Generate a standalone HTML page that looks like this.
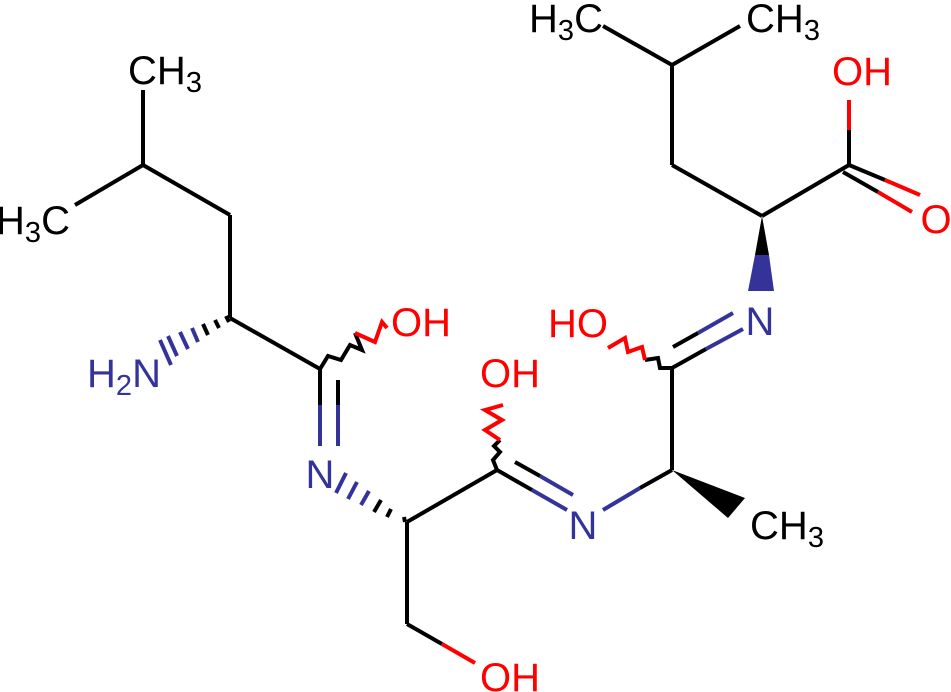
<!DOCTYPE html>
<html><head><meta charset="utf-8"><style>html,body{margin:0;padding:0;background:#fff}svg{display:block}</style></head><body>
<svg width="951" height="692" viewBox="0 0 951 692" xmlns="http://www.w3.org/2000/svg" font-family="Liberation Sans, sans-serif" font-size="40">
<g stroke="#000" stroke-width="4" fill="none" stroke-linecap="butt">
<line x1="75" y1="205" x2="143" y2="165"/>
<line x1="143" y1="165" x2="143" y2="90"/>
<line x1="143" y1="165" x2="230" y2="215"/>
<line x1="230" y1="215" x2="230" y2="318"/>
<line x1="230" y1="318" x2="320" y2="369"/>
<line x1="320" y1="369" x2="320" y2="405"/>
<line x1="320" y1="405" x2="320" y2="446" stroke="#333399"/>
<line x1="338" y1="380" x2="338" y2="405"/>
<line x1="338" y1="405" x2="338" y2="446" stroke="#333399"/>
<polyline points="320,369 328,356 341,360 350,345 362,350 355,333" />
<polyline points="355,333 375,342 382,322 387,328" stroke="#f00"/>
<line x1="407" y1="522" x2="497" y2="470"/>
<line x1="407" y1="522" x2="407" y2="624"/>
<line x1="407" y1="624" x2="442" y2="644"/>
<line x1="442" y1="644" x2="475" y2="663" stroke="#f00"/>
<line x1="497" y1="470" x2="532" y2="490"/>
<line x1="532" y1="490" x2="567" y2="510" stroke="#333399"/>
<line x1="515" y1="462" x2="540" y2="476"/>
<line x1="540" y1="476" x2="573" y2="495" stroke="#333399"/>
<polyline points="497,470 493,460 500,452 494,446 500,440" />
<polyline points="500,440 485,430 502,420 485,410 503,405" stroke="#f00"/>
<line x1="603" y1="510" x2="640" y2="488" stroke="#333399"/>
<line x1="640" y1="488" x2="672" y2="470"/>
<line x1="672" y1="470" x2="672" y2="368"/>
<line x1="672" y1="368" x2="706" y2="349"/>
<line x1="706" y1="349" x2="743" y2="329" stroke="#333399"/>
<line x1="673" y1="347" x2="698" y2="333"/>
<line x1="698" y1="333" x2="733" y2="313" stroke="#333399"/>
<polyline points="672,368 660,368 658,358 645,360" />
<polyline points="645,360 642,347 628,352 625,338 608,348" stroke="#f00"/>
<line x1="762" y1="216" x2="672" y2="165"/>
<line x1="672" y1="165" x2="672" y2="65"/>
<line x1="672" y1="65" x2="603" y2="26"/>
<line x1="672" y1="65" x2="740" y2="26"/>
<line x1="762" y1="216" x2="849" y2="165"/>
<line x1="849" y1="165" x2="849" y2="130"/>
<line x1="849" y1="130" x2="849" y2="100" stroke="#f00"/>
<line x1="849" y1="165" x2="885" y2="180"/>
<line x1="885" y1="180" x2="920" y2="195" stroke="#f00"/>
<line x1="843" y1="172" x2="878" y2="192"/>
<line x1="878" y1="192" x2="912" y2="212" stroke="#f00"/>
</g>
<g stroke-width="4">
<line x1="226" y1="316" x2="229" y2="322" stroke="#000"/>
<line x1="215" y1="320" x2="219" y2="328" stroke="#000"/>
<line x1="203" y1="324" x2="208" y2="335" stroke="#000"/>
<line x1="192" y1="328" x2="198" y2="342" stroke="#333399"/>
<line x1="180" y1="332" x2="188" y2="349" stroke="#333399"/>
<line x1="168" y1="336" x2="177" y2="356" stroke="#333399"/>
<line x1="160" y1="340" x2="171" y2="365" stroke="#333399"/>
<line x1="404" y1="517" x2="405" y2="522" stroke="#000"/>
<line x1="391" y1="509" x2="387" y2="517" stroke="#000"/>
<line x1="381" y1="500" x2="374" y2="512" stroke="#000"/>
<line x1="369" y1="491" x2="361" y2="505" stroke="#333399"/>
<line x1="357" y1="482" x2="348" y2="499" stroke="#333399"/>
<line x1="346" y1="473" x2="336" y2="493" stroke="#333399"/>
</g>
<polygon points="762,216 755,255 769,255" fill="#000"/>
<polygon points="755,255 769,255 774,291 748,291" fill="#333399"/>
<polygon points="672,470 745,498 728,518" fill="#000"/>
<g text-anchor="middle">
<text x="165" y="84" fill="#000">CH<tspan font-size="29" dy="8">3</tspan></text>
<text x="33" y="234" fill="#000">H<tspan font-size="29" dy="8">3</tspan><tspan dy="-8">C</tspan></text>
<text x="124" y="387" fill="#333399">H<tspan font-size="29" dy="8">2</tspan><tspan dy="-8">N</tspan></text>
<text x="421" y="336" fill="#f00">OH</text>
<text x="320" y="488" fill="#333399">N</text>
<text x="510" y="387" fill="#f00">OH</text>
<text x="583" y="539" fill="#333399">N</text>
<text x="510" y="691" fill="#f00">OH</text>
<text x="578" y="337" fill="#f00">HO</text>
<text x="760" y="335" fill="#333399">N</text>
<text x="787" y="539" fill="#000">CH<tspan font-size="29" dy="8">3</tspan></text>
<text x="566" y="32" fill="#000">H<tspan font-size="29" dy="8">3</tspan><tspan dy="-8">C</tspan></text>
<text x="783" y="32" fill="#000">CH<tspan font-size="29" dy="8">3</tspan></text>
<text x="862" y="85" fill="#f00">OH</text>
<text x="936" y="233" fill="#f00">O</text>
</g>
</svg>
</body></html>
